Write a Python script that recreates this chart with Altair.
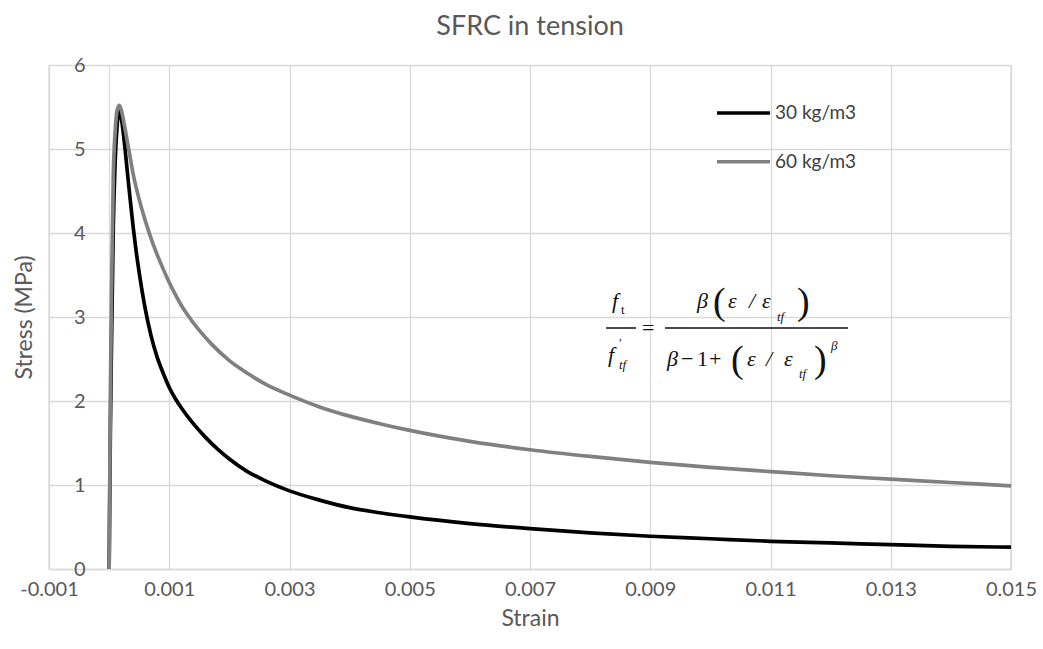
import altair as alt
import pandas as pd

# ---- data ----
series_names = ["30 kg/m3", "60 kg/m3"]
series_colors = ["#000000", "#808080"]

strain_30 = [0.0, 0.00002, 0.00004, 0.00007, 0.0001, 0.00013, 0.00017, 0.0002,
             0.00025, 0.0003, 0.00035, 0.0004, 0.00045, 0.0005, 0.0006, 0.0007,
             0.0008, 0.0009, 0.001, 0.0011, 0.0012, 0.0014, 0.0016, 0.0018,
             0.002, 0.0023, 0.0026, 0.003, 0.0035, 0.004, 0.0045, 0.005,
             0.006, 0.007, 0.008, 0.009, 0.010, 0.011, 0.012, 0.013, 0.014, 0.015]
stress_30 = [0.0, 1.6, 2.7, 4.1, 4.85, 5.25, 5.45, 5.38,
             5.1, 4.75, 4.4, 4.07, 3.78, 3.53, 3.1, 2.77,
             2.52, 2.33, 2.16, 2.03, 1.92, 1.73, 1.57, 1.43,
             1.31, 1.16, 1.05, 0.93, 0.82, 0.73, 0.67, 0.62,
             0.54, 0.48, 0.43, 0.39, 0.36, 0.33, 0.31, 0.29, 0.27, 0.26]

strain_60 = [0.0, 0.00002, 0.00004, 0.00007, 0.0001, 0.00013, 0.00017, 0.0002,
             0.00025, 0.0003, 0.00035, 0.0004, 0.0005, 0.0006, 0.0007, 0.0008,
             0.0009, 0.001, 0.0011, 0.0012, 0.0013, 0.0015, 0.0017, 0.002,
             0.0023, 0.0026, 0.003, 0.0035, 0.004, 0.0045, 0.005, 0.006,
             0.007, 0.008, 0.009, 0.010, 0.011, 0.012, 0.013, 0.014, 0.015]
stress_60 = [0.0, 2.0, 3.3, 4.7, 5.2, 5.45, 5.52, 5.47,
             5.3, 5.1, 4.9, 4.7, 4.4, 4.15, 3.93, 3.74,
             3.57, 3.41, 3.27, 3.14, 3.03, 2.84, 2.68, 2.48,
             2.33, 2.2, 2.07, 1.93, 1.82, 1.73, 1.65, 1.52,
             1.42, 1.34, 1.27, 1.21, 1.16, 1.11, 1.07, 1.03, 0.99]

x_ticks = [-0.001, 0.001, 0.003, 0.005, 0.007, 0.009, 0.011, 0.013, 0.015]
y_ticks = [0, 1, 2, 3, 4, 5, 6]

rows = []
for s, st in zip(strain_30, stress_30):
    rows.append({"Strain": s, "Stress": st, "Series": series_names[0]})
for s, st in zip(strain_60, stress_60):
    rows.append({"Strain": s, "Stress": st, "Series": series_names[1]})
df = pd.DataFrame(rows)

W, H = 962, 504
LEFT, TOP = 49, 65
FONT = "Lato"
TXT = "#595959"
GRID = "#d9d9d9"

xscale = alt.Scale(domain=[-0.001, 0.015], nice=False, zero=False)
yscale = alt.Scale(domain=[0, 6], nice=False)

lines = alt.Chart(df).mark_line(strokeWidth=3.7, interpolate="monotone").encode(
    x=alt.X("Strain:Q", scale=xscale,
            axis=alt.Axis(values=x_ticks, title="Strain", grid=True, gridColor=GRID,
                          gridWidth=1.3, domainColor=GRID, domainWidth=1.3, ticks=False,
                          labelFlush=False, labelOverlap=False,
                          labelPadding=10, labelFontSize=20, labelFont=FONT, labelColor=TXT,
                          titleFont=FONT, titleFontSize=23, titleColor=TXT,
                          titleFontWeight="normal", titlePadding=8,
                          labelExpr="datum.value < 0 ? '-' + format(-datum.value, '.3f') : format(datum.value, '.3f')")),
    y=alt.Y("Stress:Q", scale=yscale,
            axis=alt.Axis(values=y_ticks, title="Stress (MPa)", grid=True, gridColor=GRID,
                          gridWidth=1.3, domainColor=GRID, domainWidth=1.3, ticks=False,
                          offset=-60, labelPadding=24, labelFontSize=20, labelFont=FONT,
                          labelColor=TXT, titleFont=FONT, titleFontSize=23, titleColor=TXT,
                          titleFontWeight="normal", titleX=-73, titleY=H / 2, format="d")),
    color=alt.Color("Series:N", scale=alt.Scale(domain=series_names, range=series_colors),
                    legend=None),
)

# plot edges are gridlines in the reference
edge = alt.Chart(alt.Data(values=[{"v": -0.001}, {"v": 0.015}])).mark_rule(
    color=GRID, strokeWidth=1.3).encode(x=alt.X("v:Q", scale=xscale),
                                       y=alt.value(0), y2=alt.value(H))

# ---- legend (manual, inside plot at top right) ----
legend_y = [113, 161.7]
legend_layers = []
for name, col, ly in zip(series_names, series_colors, legend_y):
    yy = ly - TOP
    d = alt.Data(values=[{"label": name}])
    legend_layers.append(alt.Chart(d).mark_rule(color=col, strokeWidth=3.5).encode(
        x=alt.value(717 - LEFT), x2=alt.value(770 - LEFT), y=alt.value(yy)))
    legend_layers.append(alt.Chart(d).mark_text(
        align="left", baseline="middle", font=FONT, fontSize=19, color="#404040").encode(
        x=alt.value(775 - LEFT), y=alt.value(yy), text="label:N"))

# ---- formula annotation (page pixel layout) ----
SERIF = "Liberation Serif"
formula_parts = [
    # text, x_left, baseline_y, size, italic
    ("f", 612, 308, 22, True), ("t", 621, 314, 13, False),
    ("f", 608, 362, 22, True), ("\u2032", 619, 347, 13, False), ("tf", 619, 369, 13, True),
    ("=", 642, 335, 22, False),
    ("\u03b2", 697, 308, 22, True), ("(", 713, 314, 38, False), ("\u03b5", 728, 308, 22, True),
    ("/", 749, 308, 22, True), ("\u03b5", 762, 308, 22, True), ("tf", 777, 321, 13, True),
    (")", 797, 314, 38, False),
    ("\u03b2", 667, 366, 22, True), ("\u2212", 681, 366, 22, False), ("1", 697, 366, 22, False),
    ("+", 709, 366, 22, False), ("(", 731, 372, 38, False), ("\u03b5", 747, 366, 22, True),
    ("/", 766, 366, 22, True), ("\u03b5", 784, 366, 22, True), ("tf", 799, 378, 13, True),
    (")", 814, 372, 38, False), ("\u03b2", 831, 350, 13, True),
]
formula_layers = []
for txt, px, py, fs, it in formula_parts:
    kw = dict(align="left", baseline="alphabetic", font=SERIF, fontSize=fs, color="#111111")
    if it:
        kw["fontStyle"] = "italic"
    formula_layers.append(alt.Chart(alt.Data(values=[{"t": txt}])).mark_text(**kw).encode(
        x=alt.value(px - LEFT), y=alt.value(py - TOP), text="t:N"))
bars = [(606, 636, 328), (665, 848, 328)]
for x1, x2, yb in bars:
    formula_layers.append(alt.Chart(alt.Data(values=[{"a": 1}])).mark_rule(
        color="#111111", strokeWidth=1.5).encode(
        x=alt.value(x1 - LEFT), x2=alt.value(x2 - LEFT), y=alt.value(yb - TOP)))

chart = alt.layer(edge, lines, *legend_layers, *formula_layers).properties(
    width=W, height=H,
    title=alt.TitleParams("SFRC in tension", font=FONT, fontSize=27, color=TXT,
                          fontWeight="normal", offset=14, anchor="middle"),
    autosize=alt.AutoSizeParams(type="none"),
    padding={"left": LEFT, "top": TOP, "right": 1043 - LEFT - W, "bottom": 649 - TOP - H},
).configure_view(stroke=None).configure(background="white")

chart.save("out.html", embed_options={"renderer": "svg", "actions": False})
